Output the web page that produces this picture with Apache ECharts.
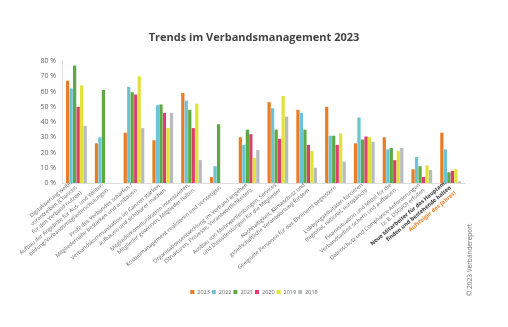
<!DOCTYPE html>
<html><head><meta charset="utf-8">
<script src="https://cdn.jsdelivr.net/npm/echarts@6/dist/echarts.min.js"></script>
<style>html,body{margin:0;padding:0;background:#fff}#c{width:508px;height:327px}</style>
</head><body><div id="c"></div>
<script>
const categories = [
  "Digitalisierung weiter\nvorantreiben (Chancen\nfür den Verband nutzen)",
  "Aufbau der Angebote für Aus- und Weiter-\nbildung/Verbandsmitgliederschulungen",
  "Profil des Verbandes schärfen /\nMitgliedernähe bestärken und ausbauen",
  "Verbandskommunikation im Ganzen stärken,\naufbauen und sichtbarer machen",
  "Mitgliederkommunikation intensivieren,\nMitglieder gewinnen, Mitglieder halten",
  "Kostenmanagement realisieren und verstetigen",
  "Organisationsentwicklung im Verband angehen\n(Strukturen, Prozesse, Verantwortlichkeiten)",
  "Ausbau von Mehrwertleistungen, Services\nund Dienstleistungen für die Mitglieder",
  "Nachhaltigkeit, Klimaschutz und\ngesellschaftliche Verantwortung fördern",
  "Geeignete Personen für das Ehrenamt begeistern",
  "Lobbyingaktivitäten forcieren\n(regional, national, europäisch)",
  "Finanzsituation und Mittel für die\nVerbandsarbeit sichern und aufbauen",
  "Datenschutz und Compliance-Anforderungen\n(z. B. DSGVO) erfüllen",
  "Neue Mitarbeiter für das Hauptamt\nfinden und bestehende halten"
];
const highlightNote = "Aufsteiger des Jahres!";
const years = ["2023", "2022", "2021", "2020", "2019", "2018"];
const v2023 = [67, 26, 33, 28, 59, 4, 30, 53, 48, 50, 26, 30, 9, 33];
const v2022 = [62, 30, 63, 51, 54, 11, 25, 49, 46, 31, 43, 22, 17, 22];
const v2021 = [77, 61, 59.5, 51.5, 48, 38.5, 35, 35, 35, 31, 28.5, 23, 11, 7];
const v2020 = [50, null, 58, 46, 36, null, 32, 29, 25, 25, 30.5, 15, 4, 8];
const v2019 = [64, null, 70, 36, 52, null, 16.5, 57, 21, 32.5, 30, 21, 11.5, 9];
const v2018 = [37.5, null, 36, 46, 15, null, 21.5, 43.5, 10, 14, 27, 23, 8.5, 1];
const yTicks = [0, 10, 20, 30, 40, 50, 60, 70, 80];

const colors = ['#E87D26', '#6CC3D3', '#5DAA45', '#D9406A', '#E2E23A', '#B7BBBE'];
const seriesData = [v2023, v2022, v2021, v2020, v2019, v2018];

const chart = echarts.init(document.getElementById('c'), null, {renderer: 'canvas'});
const ff = '"Open Sans", "Noto Sans", sans-serif';
chart.setOption({
  animation: false,
  color: colors,
  textStyle: {fontFamily: ff},
  title: {
    text: 'Trends im Verbandsmanagement 2023',
    left: 'center', top: 27,
    textStyle: {fontSize: 11, fontWeight: 'bold', color: '#444', fontFamily: ff}
  },
  legend: {
    data: years, bottom: 27, left: 'center',
    itemWidth: 4, itemHeight: 4, itemGap: 2, icon: 'rect',
    textStyle: {fontSize: 5.5, color: '#666', padding: [0, 0, 0, -2]}
  },
  grid: {left: 62, right: 43, top: 61, bottom: 144, containLabel: false},
  xAxis: {
    type: 'category', data: categories,
    axisLine: {lineStyle: {color: '#ddd'}},
    axisTick: {show: false},
    axisLabel: {
      interval: 0, rotate: 40, fontSize: 5.5, color: '#666', lineHeight: 7, margin: 4,
      formatter: function (v, i) {
        if (i === categories.length - 1) {
          return v.split('\n').map(s => '{b|' + s + '}').join('\n') + '\n{o|' + highlightNote + '}';
        }
        return v;
      },
      rich: {
        b: {fontSize: 5.5, fontWeight: 'bold', color: '#333', lineHeight: 7},
        o: {fontSize: 5.5, fontWeight: 'bold', color: '#E87D26', lineHeight: 7}
      }
    }
  },
  yAxis: {
    type: 'value', min: 0, max: 80, interval: 10,
    axisLine: {show: true, lineStyle: {color: '#ddd'}},
    axisTick: {show: false},
    splitLine: {show: false},
    axisLabel: {fontSize: 7, color: '#666', margin: 6, formatter: v => yTicks.includes(v) ? v + ' %' : ''}
  },
  series: years.map((y, k) => ({
    name: y, type: 'bar', data: seriesData[k],
    barGap: '8%', barCategoryGap: '28%'
  })),
  graphic: [{
    type: 'text', x: 470, y: 296, rotation: Math.PI / 2,
    style: {text: '© 2023 Verbändereport', fontSize: 6.5, fill: '#777', fontFamily: ff, textVerticalAlign: 'middle'}
  }]
});
</script></body></html>
